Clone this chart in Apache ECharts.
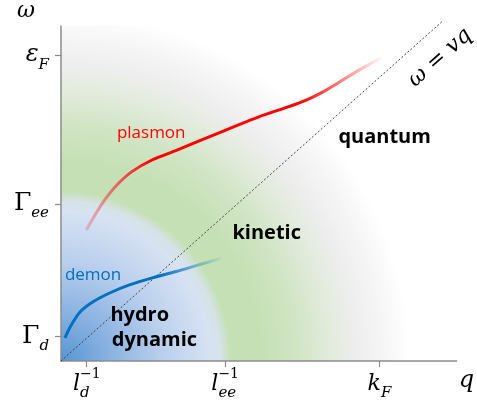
<!DOCTYPE html>
<html><head><meta charset="utf-8">
<script src="https://cdn.jsdelivr.net/npm/echarts@6/dist/echarts.min.js"></script>
<style>html,body{margin:0;padding:0;background:#fff}#c{width:477px;height:401px}</style>
</head><body><div id="c"></div>
<script>
// ---- data ----
const xTickValues = [6.5, 41.5, 80.5];
const xTickMain = ['l', 'l', 'k'];
const xTickSub = ['d', 'ee', 'F'];
const xTickSup = ['−1', '−1', ''];
const yTickValues = [7.25, 46.9, 91.3];
const yTickMain = ['Γ', 'Γ', 'ε'];
const yTickSub = ['d', 'ee', 'F'];
const plasmonX = [6.4, 8.5, 11.0, 14.0, 18.0, 23.0, 29.0, 36.0, 43.0, 50.0, 57.0, 62.0, 66.0, 70.0, 75.0, 80.8];
const plasmonY = [39.1, 43.4, 48.0, 52.4, 56.6, 60.0, 62.8, 66.2, 69.6, 72.9, 75.7, 77.9, 80.2, 83.0, 86.6, 90.4];
const demonX = [1.0, 2.3, 4.8, 8.0, 12.3, 17.3, 23.1, 29.1, 34.8, 40.6];
const demonY = [6.9, 10.1, 14.6, 17.6, 20.3, 22.7, 24.8, 26.7, 28.7, 30.7];
const lightX = [0, 96.5];
const lightY = [0, 101.5];
const blueRadius = 43;      // hydrodynamic region radius (x units)
const greenRadius = 100;    // kinetic fade radius (x units)
const labelTexts = ['plasmon', 'demon', 'hydro', 'dynamic', 'kinetic', 'quantum', 'ω = vq'];
const labelX = [22.8, 8.1, 19.9, 23.6, 52.0, 81.8, 95.8];
const labelY = [68.1, 25.7, 13.7, 6.3, 38.2, 66.9, 90.5];

// ---- chart ----
const chart = echarts.init(document.getElementById('c'), null, {renderer: 'canvas'});
const mathFont = '"DejaVu Serif", "Liberation Serif", serif';
const textFont = '"Open Sans", Lato, sans-serif';
const zip = (a, b) => a.map((v, i) => [v, b[i]]);

const xRich = {
  m: {fontFamily: mathFont, fontStyle: 'italic', fontSize: 22, color: '#000', lineHeight: 34, verticalAlign: 'middle', align: 'left'},
  sb: {fontFamily: mathFont, fontStyle: 'italic', fontSize: 15, color: '#000', lineHeight: 15, verticalAlign: 'bottom', width: 0, align: 'left'},
  sp: {fontFamily: mathFont, fontSize: 14, color: '#000', lineHeight: 14, verticalAlign: 'top', align: 'left'},
  sb2: {fontFamily: mathFont, fontStyle: 'italic', fontSize: 15, color: '#000', lineHeight: 15, verticalAlign: 'bottom', align: 'left'}
};
const yRich = {
  g: {fontFamily: mathFont, fontSize: 25, color: '#000', lineHeight: 34, verticalAlign: 'middle'},
  e: {fontFamily: mathFont, fontStyle: 'italic', fontSize: 24, color: '#000', lineHeight: 34, verticalAlign: 'middle'},
  sb: {fontFamily: mathFont, fontStyle: 'italic', fontSize: 15, color: '#000', lineHeight: 15, verticalAlign: 'bottom'}
};

const baseLabel = {show: true, position: 'inside', formatter: '{b}', textBorderWidth: 0, opacity: 1};
const labelStyles = [
  {color: '#ff0000', fontSize: 17, fontFamily: textFont},
  {color: '#0070c0', fontSize: 17, fontFamily: textFont},
  {color: '#000000', fontSize: 20, fontWeight: 'bold', fontFamily: textFont},
  {color: '#000000', fontSize: 20, fontWeight: 'bold', fontFamily: textFont},
  {color: '#000000', fontSize: 20, fontWeight: 'bold', fontFamily: textFont},
  {color: '#000000', fontSize: 20, fontWeight: 'bold', fontFamily: textFont},
  {color: '#000000', fontSize: 22, fontStyle: 'italic', fontFamily: mathFont, rotate: 41.5}
];

const axisColor = '#8c8c8c';

chart.setOption({
  animation: false,
  grid: {left: 61, right: 17, top: 26, bottom: 40},
  xAxis: {
    type: 'value', min: 0, max: 100,
    name: 'q', nameLocation: 'end', nameGap: 2,
    nameTextStyle: {fontFamily: mathFont, fontStyle: 'italic', fontSize: 24, color: '#000', align: 'left', verticalAlign: 'top', padding: [8, 0, 0, 0]},
    axisLine: {lineStyle: {color: axisColor, width: 1.5}},
    axisTick: {customValues: xTickValues, length: 6, lineStyle: {color: axisColor, width: 1.2}},
    splitLine: {show: false},
    axisLabel: {
      customValues: xTickValues, margin: 6, rich: xRich,
      formatter: function (v) {
        const i = xTickValues.indexOf(v);
        if (i < 0) return '';
        if (xTickSup[i]) return '{m|' + xTickMain[i] + '}{sb|' + xTickSub[i] + '}{sp|' + xTickSup[i] + '}';
        return '{m|' + xTickMain[i] + '}{sb2|' + xTickSub[i] + '}';
      }
    }
  },
  yAxis: {
    type: 'value', min: 0, max: 100,
    name: 'ω', nameLocation: 'end', nameGap: 4,
    nameTextStyle: {fontFamily: mathFont, fontStyle: 'italic', fontSize: 22, color: '#000', align: 'right', verticalAlign: 'bottom', padding: [0, 26, 0, 0]},
    axisLine: {lineStyle: {color: axisColor, width: 1.5}},
    axisTick: {customValues: yTickValues, length: 6, lineStyle: {color: axisColor, width: 1.2}},
    splitLine: {show: false},
    axisLabel: {
      customValues: yTickValues, margin: 12, rich: yRich,
      formatter: function (v) {
        const i = yTickValues.indexOf(v);
        if (i < 0) return '';
        const k = yTickMain[i] === 'ε' ? 'e' : 'g';
        return '{' + k + '|' + yTickMain[i] + '}{sb|' + yTickSub[i] + '}';
      }
    }
  },
  series: [
    {
      type: 'custom', silent: true, z: 0, clip: true,
      data: [[0, 0]],
      renderItem: function (params, api) {
        const o = api.coord([0, 0]);
        const cs = params.coordSys;
        const rb = api.size([blueRadius, 0])[0];
        const rg = api.size([greenRadius, 0])[0];
        return {
          type: 'group',
          children: [
            {
              type: 'rect',
              shape: {x: cs.x, y: cs.y, width: cs.width, height: cs.height},
              style: {fill: {type: 'radial', x: o[0], y: o[1], r: rg, global: true, colorStops: [
                {offset: 0, color: '#c5e0b4'},
                {offset: 0.5, color: '#c5e0b4'},
                {offset: 0.6, color: '#d1e5c5'},
                {offset: 0.68, color: '#e2ebdc'},
                {offset: 0.75, color: '#eeeeee'},
                {offset: 0.82, color: '#f6f6f6'},
                {offset: 0.88, color: '#ffffff'},
                {offset: 1, color: '#ffffff'}
              ]}}
            },
            {
              type: 'sector',
              shape: {cx: o[0], cy: o[1], r0: 0, r: rb, startAngle: -Math.PI / 2, endAngle: 0, clockwise: true},
              style: {fill: {type: 'radial', x: o[0], y: o[1], r: rb, global: true, colorStops: [
                {offset: 0, color: '#5595d4'},
                {offset: 0.3, color: '#8cb3e2'},
                {offset: 0.6, color: '#bbd0ed'},
                {offset: 0.88, color: '#d7e2f3'},
                {offset: 0.94, color: 'rgba(218,227,243,0.8)'},
                {offset: 1, color: 'rgba(218,227,243,0)'}
              ]}}
            }
          ]
        };
      }
    },
    {
      type: 'line', silent: true, z: 3, clip: false, symbol: 'none',
      data: zip(lightX, lightY),
      lineStyle: {color: '#444', width: 1, type: [2, 2]}
    },
    {
      type: 'line', silent: true, z: 4, symbol: 'none', smooth: 0.3,
      data: zip(plasmonX, plasmonY),
      lineStyle: {width: 3, color: {type: 'linear', x: 0, y: 0, x2: 1, y2: 0, colorStops: [
        {offset: 0, color: 'rgba(225,110,120,0.35)'},
        {offset: 0.1, color: 'rgba(235,70,80,0.75)'},
        {offset: 0.22, color: '#ff0000'},
        {offset: 0.72, color: '#ff0000'},
        {offset: 1, color: 'rgba(255,0,0,0)'}
      ]}}
    },
    {
      type: 'line', silent: true, z: 4, symbol: 'none', smooth: 0.3,
      data: zip(demonX, demonY),
      lineStyle: {width: 3, color: {type: 'linear', x: 0, y: 0, x2: 1, y2: 0, colorStops: [
        {offset: 0, color: '#0070c0'},
        {offset: 0.6, color: '#0070c0'},
        {offset: 1, color: 'rgba(0,112,192,0)'}
      ]}}
    },
    {
      type: 'scatter', silent: true, z: 5, symbolSize: 0, itemStyle: {opacity: 1},
      data: labelTexts.map((t, i) => ({
        value: [labelX[i], labelY[i]], name: t,
        label: Object.assign({}, baseLabel, labelStyles[i])
      }))
    }
  ]
});
</script>
</body></html>
